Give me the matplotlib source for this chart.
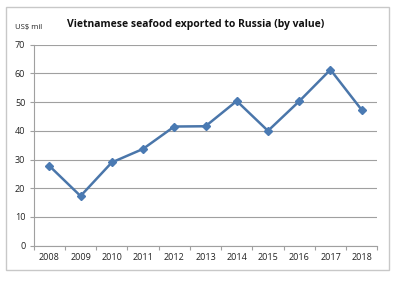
import matplotlib
matplotlib.use("Agg")
import matplotlib.pyplot as plt
from matplotlib.patches import Rectangle

years = ["2008", "2009", "2010", "2011", "2012", "2013", "2014", "2015", "2016", "2017", "2018"]
values = [27.8, 17.3, 29.0, 33.7, 41.5, 41.6, 50.4, 40.0, 50.3, 61.3, 47.3]
yticks = [0, 10, 20, 30, 40, 50, 60, 70]

plt.rcParams['font.family'] = ['Open Sans', 'DejaVu Sans']

fig = plt.figure(figsize=(3.94, 2.83), dpi=100)
fig.patch.set_facecolor("white")
fig.patches.append(Rectangle((6/394, 1-270/283), 383/394, 263/283, transform=fig.transFigure,
                             fill=False, edgecolor="#c8c8c8", linewidth=1.0))

ax = fig.add_axes([33.7/394, 1-245.7/283, (377.3-33.7)/394, (245.7-44.7)/283])
x = list(range(len(years)))
ax.plot(x, values, color="#4a76aa", linewidth=1.8, marker="D", markersize=4.5,
        markerfacecolor="#4a7ab3", markeredgecolor="#4a7ab3", zorder=3)
ax.set_xlim(-0.5, len(years) - 0.5)
ax.set_ylim(0, 70)
ax.set_yticks(yticks)
ax.set_yticklabels([str(v) for v in yticks], fontsize=6.5, color="#222222")
ax.set_xticks(x)
ax.set_xticklabels(years, fontsize=6.5, color="#222222")
ax.set_xticks([i - 0.5 for i in range(len(years) + 1)], minor=True)
ax.tick_params(axis="x", which="major", length=0, pad=5)
ax.tick_params(axis="x", which="minor", length=3, color="#a0a0a0", width=0.8)
ax.tick_params(axis="y", length=3, color="#a0a0a0", width=0.8, pad=3)
ax.grid(axis="y", color="#a0a0a0", linewidth=0.8)
ax.set_axisbelow(True)
for s in ["top", "right"]:
    ax.spines[s].set_visible(False)
ax.spines["left"].set_color("#a0a0a0")
ax.spines["bottom"].set_color("#a0a0a0")
ax.spines["left"].set_linewidth(0.8)
ax.spines["bottom"].set_linewidth(0.8)

fig.text(196/394, 1-24/283, "Vietnamese seafood exported to Russia (by value)",
         ha="center", va="center", fontsize=7.5, fontweight="bold", color="#111111")
fig.text(15/394, 1-28/283, "US$ mil", ha="left", va="center", fontsize=5.5, color="#222222")

fig.savefig("out.png", dpi=100)
